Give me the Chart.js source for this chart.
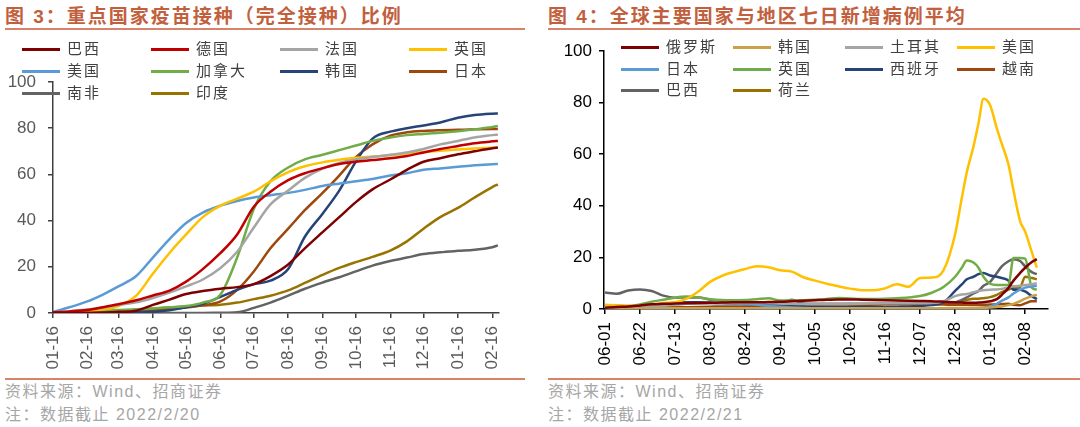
<!DOCTYPE html>
<html>
<head>
<meta charset="utf-8">
<script src="https://cdn.jsdelivr.net/npm/chart.js@4.4.1/dist/chart.umd.min.js"></script>
<style>
body{margin:0;width:1080px;height:427px;background:#fff;position:relative;overflow:hidden;font-family:"Liberation Sans","Noto Sans CJK SC",sans-serif;}
.title{position:absolute;top:5px;line-height:24px;font-size:19px;font-weight:700;color:#C2603D;letter-spacing:2px;white-space:nowrap;}
.rule{position:absolute;height:2px;background:#D9826A;}
.note{position:absolute;font-size:16px;line-height:22px;color:#A6A6A6;letter-spacing:1.5px;white-space:nowrap;}
.lg{position:absolute;height:20px;white-space:nowrap;}
.lg .ln{position:absolute;left:0;top:9px;width:38px;height:3px;}
.lg .tx{position:absolute;left:45px;top:0;line-height:20px;font-size:15px;color:#404040;letter-spacing:2px;}
canvas{position:absolute;}
</style>
</head>
<body>
<div class="title" style="left:5px">图 3：重点国家疫苗接种（完全接种）比例</div>
<div class="title" style="left:548px">图 4：全球主要国家与地区七日新增病例平均</div>
<div class="rule" style="left:5px;width:520px;top:28px"></div>
<div class="rule" style="left:548px;width:532px;top:28px"></div>
<canvas id="vaxChart" width="510" height="310" style="left:0;top:70px"></canvas>
<canvas id="caseChart" width="540" height="340" style="left:540px;top:40px"></canvas>
<div id="legends"></div>
<div class="rule" style="left:5px;width:520px;top:378px"></div>
<div class="rule" style="left:548px;width:532px;top:378px"></div>
<div class="note" style="left:5px;top:381px">资料来源：Wind、招商证券</div>
<div class="note" style="left:5px;top:404px">注：数据截止 2022/2/20</div>
<div class="note" style="left:548px;top:381px">资料来源：Wind、招商证券</div>
<div class="note" style="left:548px;top:404px">注：数据截止 2022/2/21</div>
<script>
// 图3：天数（从 01-16 起），完全接种比例 %
const vaxDays = [0,15,31,45,59,75,90,105,120,135,151,166,181,196,212,227,243,258,273,288,304,319,334,349,365,380,396,401];
const vaxTickDays = [0,31,59,90,120,151,181,212,243,273,304,334,365,396];
const vaxTickLabels = ['01-16','02-16','03-16','04-16','05-16','06-16','07-16','08-16','09-16','10-16','11-16','12-16','01-16','02-16'];

const vaxBrazil   = [0,0,0.1,0.2,0.5,1,3.5,5.8,8.2,9.5,10.5,11.2,12.5,16,21,28,35,41.5,48,53.5,57.8,62,65.5,67,68.7,70,71.3,71.6];
const vaxGermany  = [0.3,0.7,1.3,2.5,3.8,5.5,7.6,9.7,13.6,19,26,34,46,52.5,57.5,60.5,62.7,64.5,65.5,66.2,67,68,69.5,71,72.3,73.5,74.3,74.5];
const vaxFrance   = [0.3,0.8,1.5,2.3,3.5,4.6,6.5,8.8,11.5,14.5,19.5,26.5,37,47,53,58.5,62.5,65,66.5,67.5,68.5,69.5,71,73,74.5,76,77,77.3];
const vaxUK       = [0,0.3,0.8,1.5,3,7.5,17,26,34,41.5,46.5,49.5,52.5,57,61,63.5,65.2,66.3,67.2,67.7,68.3,69,69.7,70.2,70.8,71.2,71.5,71.6];
const vaxUS       = [0.5,2.5,5,8,11.5,16,24,32,39,43.5,46.5,48.5,50,51,52,53.3,55,56,57,58,59.5,60.5,62,62.6,63.3,64,64.4,64.5];
const vaxCanada   = [0,0.4,0.8,1,1.3,1.6,2,2.5,3,4.5,8,24,45,57,63,66.5,68.5,70.5,72.5,74.5,76,77,77.5,78,78.7,79.5,80.5,81];
const vaxKorea    = [0,0,0,0.1,0.2,0.3,0.5,1.2,2.5,4,7,10,12.5,14,19,33,43,53,65.5,75.5,78.5,80,81.2,82.5,84.5,85.7,86.3,86.4];
const vaxJapan    = [0,0,0.1,0.2,0.4,0.6,1,1.6,2.4,3.3,5,10,18,28,36.5,44.5,52,59.5,67.5,73,76.8,78.2,78.8,79.1,79.3,79.5,79.6,79.6];
const vaxSAfrica  = [0,0,0,0,0,0,0,0,0,0,0.1,0.3,2.2,4.5,7.5,10.5,13.2,15.5,18,20.5,22.5,24,25.5,26.3,26.9,27.4,28.5,29.3];
const vaxIndia    = [0,0.1,0.2,0.4,0.8,1.2,1.8,2.3,2.8,3.2,3.6,4.5,6,7.5,9.8,13,16.5,19.5,22,24.3,27,31,36.5,41.5,45.5,50,54.5,55.7];

const vaxSeries = [
  {name:'巴西', color:'#7F0000', values:vaxBrazil},
  {name:'德国', color:'#C00000', values:vaxGermany},
  {name:'法国', color:'#A5A5A5', values:vaxFrance},
  {name:'英国', color:'#FFC000', values:vaxUK},
  {name:'美国', color:'#5B9BD5', values:vaxUS},
  {name:'加拿大', color:'#70AD47', values:vaxCanada},
  {name:'韩国', color:'#264478', values:vaxKorea},
  {name:'日本', color:'#9E480E', values:vaxJapan},
  {name:'南非', color:'#636363', values:vaxSAfrica},
  {name:'印度', color:'#997300', values:vaxIndia}
];

// 图4：天数（从 06-01 起），七日新增病例平均
const caseDays = [0,7,14,21,28,35,42,49,56,63,70,77,84,91,98,105,112,119,126,133,140,147,154,161,168,175,182,189,196,203,210,214,217,221,224,227,231,235,238,242,245,249,252,256,259];
const caseTickDays = [0,21,42,63,84,105,126,147,168,189,210,231,252];
const caseTickLabels = ['06-01','06-22','07-13','08-03','08-24','09-14','10-05','10-26','11-16','12-07','12-28','01-18','02-08'];

const caseRussia  = [0.5,0.8,1,1.4,1.8,2,2.1,2.2,2.3,2.4,2.5,2.6,2.6,2.6,2.7,2.8,3,3.2,3.4,3.6,3.7,3.7,3.6,3.5,3.4,3.3,3.2,3.1,3,2.8,2.6,2.5,2.4,2.4,2.5,2.6,3,3.8,5.5,8.2,11,14,16,18.2,19.3];
const caseKorea   = [0.2,0.2,0.2,0.2,0.2,0.3,0.3,0.3,0.3,0.3,0.3,0.3,0.3,0.3,0.3,0.3,0.3,0.3,0.3,0.3,0.3,0.3,0.3,0.3,0.3,0.3,0.3,0.3,0.3,0.3,0.4,0.4,0.4,0.5,0.5,0.5,0.6,0.8,1,1.5,2,3,4,5,5.5];
const caseTurkey  = [0.8,0.8,0.9,1,1.2,1.5,1.8,2,2.2,2.3,2.4,2.4,2.4,2.3,2.2,2.1,2,1.9,1.8,1.8,1.8,1.9,2,2.1,2.2,2.2,2.2,2.2,2.3,3,5,5.6,5.8,6.5,7,7.3,7.5,7.6,7.8,8.3,8.8,9,9.3,9.6,10];
const caseUS      = [1.6,1.5,1.3,1.3,1.6,2.3,2.6,4,6.8,10.5,12.8,14.3,15.5,16.6,16.2,15,14.5,12.3,11,9.8,8.8,7.9,7.3,7.3,8,9.6,8.6,12,12.2,15,29,43,53,63,72,81.5,79,70,64,56,46,34,30,22,16];
const caseJapan   = [0.6,0.6,0.7,0.8,1,1.3,1.7,2,2.1,2.2,2.2,2.1,1.9,1.6,1.2,0.9,0.6,0.4,0.3,0.2,0.1,0.1,0.1,0.1,0.1,0.1,0.1,0.1,0.1,0.1,0.2,0.2,0.3,0.3,0.4,0.6,1,2,3.2,4.5,6,7.5,8.3,8.8,9];
const caseUK      = [0.8,1,1.2,1.8,2.8,3.6,4.4,4.8,4.5,3.8,3.5,3.4,3.5,3.8,4.2,3.3,3.3,3.4,3.6,3.9,4.3,4.1,3.9,3.9,4,4.2,4.5,5,6.3,8.5,12.5,16,18.8,18,16,12.5,9.8,9.3,9.3,9.4,19.8,19.8,19.5,8.3,7.5];
const caseSpain   = [0.3,0.3,0.4,0.6,1.2,1.8,2.4,2.6,2.6,2.5,2.3,2.1,1.9,1.7,1.5,1.3,1.2,1.1,1,0.9,0.8,0.8,0.8,0.8,0.8,0.9,1,1.2,1.5,2.5,7,9.5,11.5,12.5,13.5,14,13,12.5,12,11,7.5,7.5,6.8,5,3.8];
const caseVietnam = [0.1,0.1,0.1,0.2,0.3,0.4,0.6,0.7,0.8,0.9,1,1,1,1,0.9,0.9,0.9,1,1.1,1.2,1.3,1.4,1.5,1.7,1.8,1.9,1.9,1.9,1.8,1.7,1.6,1.6,1.6,1.6,1.6,1.6,1.7,1.8,1.9,2,1.6,1.5,2.2,3,3];
const caseBrazil  = [6.4,5.9,7.2,7.6,7,5.2,4.4,4.5,4.5,3.6,3.3,3,2.7,2.5,2.3,2.1,3.6,2.1,2,2,2,2,2,2,2,2,2,2,2,2.2,2.5,3.5,4.5,6,7,9,10.5,14,16.5,18.5,19.3,18.6,16.5,14.3,13.5];
const caseNeth    = [0.3,0.3,0.3,0.3,0.4,0.5,0.6,0.7,0.7,0.7,0.7,0.7,0.7,0.7,0.7,0.7,0.7,0.7,0.8,0.9,1,1.2,1.4,1.7,2,2.3,2.4,2.3,2.2,2.2,2.5,3,3.5,4,4,4.2,4.6,5.5,6.5,7.5,8.2,8.5,12.5,12,11.5];

const caseSeries = [
  {name:'俄罗斯', color:'#7F0000', values:caseRussia},
  {name:'韩国', color:'#C9A24A', values:caseKorea},
  {name:'土耳其', color:'#A5A5A5', values:caseTurkey},
  {name:'美国', color:'#FFC000', values:caseUS},
  {name:'日本', color:'#5B9BD5', values:caseJapan},
  {name:'英国', color:'#70AD47', values:caseUK},
  {name:'西班牙', color:'#264478', values:caseSpain},
  {name:'越南', color:'#9E480E', values:caseVietnam},
  {name:'巴西', color:'#636363', values:caseBrazil},
  {name:'荷兰', color:'#997300', values:caseNeth}
];

// 图例（HTML）
function addLegend(series, x0, colW, rows) {
  const box = document.getElementById('legends');
  series.forEach((s, i) => {
    const d = document.createElement('div');
    d.className = 'lg';
    d.style.left = (x0 + (i % 4) * colW) + 'px';
    d.style.top = (rows[Math.floor(i / 4)] - 10) + 'px';
    d.innerHTML = '<span class="ln" style="background:' + s.color + '"></span><span class="tx">' + s.name + '</span>';
    box.appendChild(d);
  });
}
addLegend(vaxSeries, 22, 129, [49, 71, 93]);
addLegend(caseSeries, 621, 112, [47, 69, 90]);

function makeChart(id, days, series, tickDays, tickLabels, opt) {
  const ctx = document.getElementById(id).getContext('2d');
  return new Chart(ctx, {
    type: 'line',
    data: {
      datasets: series.map((s) => ({
        label: s.name,
        data: days.map((d, i) => ({x: d, y: s.values[i]})),
        borderColor: s.color,
        backgroundColor: s.color,
        borderWidth: 2.5,
        pointRadius: 0,
        cubicInterpolationMode: 'monotone',
        fill: false
      }))
    },
    options: {
      responsive: false,
      animation: false,
      devicePixelRatio: 1,
      layout: {padding: opt.padding},
      plugins: {legend: {display: false}, tooltip: {enabled: false}},
      scales: {
        x: {
          type: 'linear',
          min: opt.xMin,
          max: opt.xMax,
          afterBuildTicks: (s) => { s.ticks = tickDays.map((v) => ({value: v})); },
          afterFit: (s) => { s.height = opt.xHeight; s.paddingLeft = 0; s.paddingRight = 0; },
          ticks: {
            autoSkip: false,
            minRotation: 90,
            maxRotation: 90,
            padding: 8,
            color: opt.textColor,
            font: {family: 'Liberation Sans', size: 17},
            callback: (v, i) => tickLabels[i]
          },
          grid: {drawOnChartArea: false, drawTicks: true, tickLength: 5, color: opt.axisColor, lineWidth: 1.5},
          border: {display: true, color: opt.axisColor, width: 1.5}
        },
        y: {
          min: 0,
          max: 100,
          afterFit: (s) => { s.width = opt.yWidth; s.paddingTop = 0; s.paddingBottom = 0; },
          ticks: {
            stepSize: 20,
            padding: opt.yPad,
            color: opt.textColor,
            font: {family: 'Liberation Sans', size: 17}
          },
          grid: {drawOnChartArea: false, drawTicks: true, tickLength: 5, color: opt.axisColor, lineWidth: 1.5},
          border: {display: true, color: opt.axisColor, width: 1.5}
        }
      }
    }
  });
}

makeChart('vaxChart', vaxDays, vaxSeries, vaxTickDays, vaxTickLabels, {
  padding: {top: 12, right: 11, left: 0, bottom: 0},
  xMin: 0, xMax: 402, xHeight: 67, yWidth: 53, yPad: 12,
  textColor: '#595959', axisColor: '#404040'
});

makeChart('caseChart', caseDays, caseSeries, caseTickDays, caseTickLabels, {
  padding: {top: 11, right: 32, left: 0, bottom: 0},
  xMin: -0.6, xMax: 265.7, xHeight: 71, yWidth: 64, yPad: 7,
  textColor: '#000000', axisColor: '#000000'
});
</script>
</body>
</html>
